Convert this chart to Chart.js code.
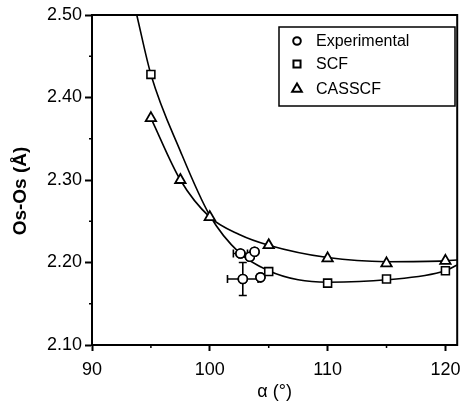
<!DOCTYPE html>
<html>
<head>
<meta charset="utf-8">
<script src="https://cdn.jsdelivr.net/npm/chart.js@4/dist/chart.umd.min.js"></script>
<style>
  html, body { margin: 0; padding: 0; background: #fff; }
  #wrap { width: 465px; height: 401px; }
</style>
</head>
<body>
<div id="wrap"><canvas id="chart" width="465" height="401"></canvas></div>
<script>
// Data
const expX = [102.8, 102.6, 103.4, 103.8, 104.3];
const expY = [2.180, 2.211, 2.207, 2.213, 2.182];
const expXErr = [1.3, 0.6, 0, 0, 0];
const expYErr = [0.02, 0, 0, 0, 0];

const scfX = [95, 105, 110, 115, 120];
const scfY = [2.428, 2.189, 2.175, 2.180, 2.190];

const casX = [95, 97.5, 100, 105, 110, 115, 120];
const casY = [2.375, 2.300, 2.255, 2.221, 2.205, 2.199, 2.202];

// fitted curves
const scfCurveX = [93.8, 95, 97.5, 100, 102.5, 105, 107.5, 110, 115, 120, 121];
const scfCurveY = [2.50, 2.428, 2.335, 2.257, 2.212, 2.190, 2.179, 2.176, 2.179, 2.190, 2.197];
const casCurveX = [95, 97.5, 100, 102.5, 105, 110, 115, 120, 121];
const casCurveY = [2.375, 2.300, 2.255, 2.234, 2.221, 2.206, 2.201, 2.202, 2.203];

const xTicks = [90, 100, 110, 120];
const xMinor = [95, 105, 115];
const yMinor = [2.15, 2.25, 2.35, 2.45];

const pts = (xs, ys) => xs.map((x, i) => ({ x: x, y: ys[i] }));

const FONT = 'Liberation Sans, Arial, Helvetica, sans-serif';

// error bars for the experimental points
const errorBars = {
  id: 'errorBars',
  afterDatasetsDraw(chart) {
    const { ctx, scales: { x, y } } = chart;
    ctx.save();
    ctx.strokeStyle = '#000';
    ctx.lineWidth = 1.6;
    const cap = 4;
    expX.forEach((vx, i) => {
      const px = x.getPixelForValue(vx);
      const py = y.getPixelForValue(expY[i]);
      if (expXErr[i]) {
        const l = x.getPixelForValue(vx - expXErr[i]);
        const r = x.getPixelForValue(vx + expXErr[i]);
        ctx.beginPath();
        ctx.moveTo(l, py); ctx.lineTo(r, py);
        ctx.moveTo(l, py - cap); ctx.lineTo(l, py + cap);
        ctx.moveTo(r, py - cap); ctx.lineTo(r, py + cap);
        ctx.stroke();
      }
      if (expYErr[i]) {
        const t = y.getPixelForValue(expY[i] + expYErr[i]);
        const b = y.getPixelForValue(expY[i] - expYErr[i]);
        ctx.beginPath();
        ctx.moveTo(px, t); ctx.lineTo(px, b);
        ctx.moveTo(px - cap, t); ctx.lineTo(px + cap, t);
        ctx.moveTo(px - cap, b); ctx.lineTo(px + cap, b);
        ctx.stroke();
      }
    });
    // redraw the circles on top of the bars
    const meta = chart.getDatasetMeta(0);
    meta.data.forEach(el => el.draw(ctx, chart.chartArea));
    ctx.restore();
  }
};

// frame, minor ticks, y title and legend box
const frameAndLegend = {
  id: 'frameAndLegend',
  afterDraw(chart) {
    const { ctx, chartArea: a, scales: { x, y } } = chart;
    ctx.save();
    ctx.strokeStyle = '#000';
    ctx.lineWidth = 2;
    ctx.strokeRect(a.left, a.top, a.right - a.left, a.bottom - a.top);

    // minor ticks
    ctx.lineWidth = 1.5;
    ctx.beginPath();
    yMinor.forEach(v => {
      const py = y.getPixelForValue(v);
      ctx.moveTo(a.left - 3, py); ctx.lineTo(a.left, py);
    });
    xMinor.forEach(v => {
      const px = x.getPixelForValue(v);
      ctx.moveTo(px, a.bottom); ctx.lineTo(px, a.bottom + 3);
    });
    ctx.stroke();

    // y axis title
    ctx.save();
    ctx.translate(21, 191);
    ctx.rotate(-Math.PI / 2);
    ctx.font = 'bold 19px ' + FONT;
    ctx.fillStyle = '#000';
    ctx.textAlign = 'center';
    ctx.textBaseline = 'middle';
    ctx.fillText('Os-Os (Å)', 0, 0);
    ctx.restore();

    // legend
    const bx = 279, by = 27, bw = 176, bh = 79;
    ctx.lineWidth = 1.5;
    ctx.fillStyle = '#fff';
    ctx.fillRect(bx, by, bw, bh);
    ctx.strokeRect(bx, by, bw, bh);
    const rows = [41, 64, 89];
    const sizes = [3.8, 5, 5.6];
    ctx.font = '16px ' + FONT;
    ctx.textBaseline = 'middle';
    [0, 1, 2].forEach((di, k) => {
      const ds = chart.data.datasets[di];
      ctx.fillStyle = '#fff';
      ctx.strokeStyle = '#000';
      ctx.lineWidth = 2;
      Chart.helpers.drawPoint(ctx, {
        pointStyle: ds.pointStyle,
        radius: sizes[k],
        rotation: 0,
        borderWidth: 2
      }, 297, rows[k]);
      ctx.fillStyle = '#000';
      ctx.fillText(ds.label, 316, rows[k] + 1);
    });
    ctx.restore();
  }
};

new Chart(document.getElementById('chart'), {
  type: 'scatter',
  data: {
    datasets: [
      {
        label: 'Experimental',
        data: pts(expX, expY),
        pointStyle: 'circle',
        pointRadius: 4.5,
        borderWidth: 1.6,
        borderColor: '#000',
        backgroundColor: '#fff',
        order: 0
      },
      {
        label: 'SCF',
        data: pts(scfX, scfY),
        pointStyle: 'rect',
        pointRadius: 5.6,
        borderWidth: 1.6,
        borderColor: '#000',
        backgroundColor: '#fff',
        order: 1
      },
      {
        label: 'CASSCF',
        data: pts(casX, casY),
        pointStyle: 'triangle',
        pointRadius: 6,
        borderWidth: 1.8,
        borderColor: '#000',
        backgroundColor: '#fff',
        order: 2
      },
      {
        type: 'line',
        label: 'SCF fit',
        data: pts(scfCurveX, scfCurveY),
        borderColor: '#000',
        borderWidth: 1.6,
        pointRadius: 0,
        cubicInterpolationMode: 'monotone',
        fill: false,
        order: 5
      },
      {
        type: 'line',
        label: 'CASSCF fit',
        data: pts(casCurveX, casCurveY),
        borderColor: '#000',
        borderWidth: 1.6,
        pointRadius: 0,
        cubicInterpolationMode: 'monotone',
        fill: false,
        order: 5
      }
    ]
  },
  options: {
    responsive: false,
    animation: false,
    layout: { padding: { top: 15, right: 5, left: 0, bottom: 0 } },
    plugins: {
      legend: { display: false },
      tooltip: { enabled: false }
    },
    scales: {
      x: {
        type: 'linear',
        min: 90,
        max: 121,
        afterBuildTicks: s => { s.ticks = xTicks.map(v => ({ value: v })); },
        afterFit: s => { s.height = 56; s.paddingLeft = 0; s.paddingRight = 0; },
        grid: { drawOnChartArea: false, tickLength: 6, tickWidth: 2, tickColor: '#000' },
        border: { color: '#000', width: 2 },
        ticks: { color: '#000', font: { family: FONT, size: 18 }, padding: 8, maxRotation: 0 },
        title: {
          display: true, text: 'α (°)', color: '#000',
          font: { family: FONT, size: 18, lineHeight: 1.0 },
          padding: { top: 0, bottom: 0 }
        }
      },
      y: {
        min: 2.10,
        max: 2.50,
        afterFit: s => { s.width = 92; s.paddingTop = 0; s.paddingBottom = 0; },
        grid: { drawOnChartArea: false, tickLength: 7, tickWidth: 2, tickColor: '#000' },
        border: { color: '#000', width: 2 },
        ticks: {
          stepSize: 0.1,
          color: '#000',
          font: { family: FONT, size: 18 },
          padding: 3,
          callback: v => v.toFixed(2)
        },
        title: { display: false }
      }
    }
  },
  plugins: [errorBars, frameAndLegend]
});
</script>
</body>
</html>
